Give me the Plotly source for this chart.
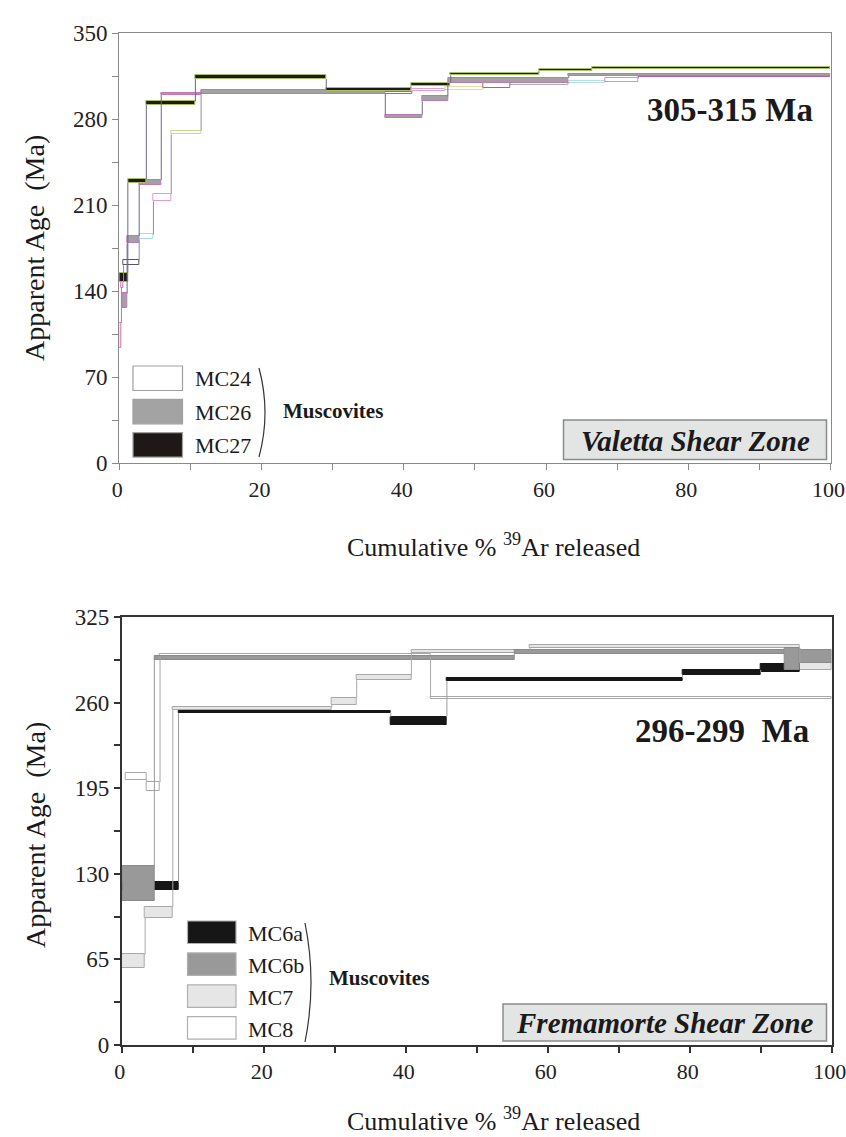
"""40Ar/39Ar age spectra for muscovites from the Valetta and Fremamorte shear zones."""

import plotly.graph_objects as go

W, H = 846, 1137
ML, MR, MT, MB = 100, 2, 20, 2
FONT = "Liberation Serif"

# ---- Valetta Shear Zone (top panel): step boundaries in cumulative %39Ar, ages and 1-sigma in Ma
MC24_STEPS = [0, 0.3, 0.6, 2.8, 4.8, 7.3, 11.5, 41.2, 45.8, 51.2, 55.0, 63.2, 68.4, 73.0, 100]
MC24_AGE = [104, 145, 163, 184, 216, 269, 301, 303.5, 305, 307, 309, 310, 311.5, 315]
MC24_ERR = [10, 2.5, 2, 2, 3, 1.5, 1, 1, 1, 2, 1, 1, 1.5, 1]

MC26_STEPS = [0.4, 1.1, 2.8, 5.9, 11.5, 37.4, 42.6, 46.2, 63.2, 100]
MC26_AGE = [132, 181.7, 228.5, 300.5, 302, 282, 296.5, 311.5, 316]
MC26_ERR = [6, 3, 2, 1, 1.5, 1.5, 2, 2, 1]

MC27_STEPS = [0, 1.2, 3.8, 10.7, 29.1, 41.0, 46.6, 59.0, 66.5, 100]
MC27_AGE = [151, 229.5, 293, 314, 304, 308, 316.5, 320, 321.7]
MC27_ERR = [4, 1.5, 1.5, 1.5, 1, 1.5, 1, 1, 0.8]

# ---- Fremamorte Shear Zone (bottom panel)
MC6A_STEPS = [0, 8.0, 37.9, 45.8, 79.0, 90.0, 95.5]
MC6A_AGE = [120.5, 253, 246, 277.5, 283, 286]
MC6A_ERR = [3, 1, 3.3, 1, 1.8, 3]

MC6B_STEPS = [0.2, 4.6, 55.3, 93.4, 95.5, 100]
MC6B_AGE = [122.6, 294, 298.5, 293, 295]
MC6B_ERR = [13, 1.5, 1.5, 8.5, 5]

MC7_STEPS = [0, 3.3, 7.2, 29.6, 33.1, 40.8, 57.5, 95.5, 100]
MC7_AGE = [63.8, 100.7, 255.6, 261, 279, 299, 302.5, 287.5]
MC7_ERR = [5, 4, 1, 2.5, 2, 1, 1, 3]

MC8_STEPS = [0.5, 3.5, 5.4, 43.5, 100]
MC8_AGE = [204, 196, 296, 263.5]
MC8_ERR = [2.5, 3.5, 1, 0.8]

TOP_LABELS = ["MC24", "MC26", "MC27"]
BOTTOM_LABELS = ["MC6a", "MC6b", "MC7", "MC8"]

# per-step outline colours used in the scanned figure for MC24
MC24_EDGES = ["#d86aa8", "#d86aa8", "#555566", "#a6dce6", "#e29ad0", "#c8dc8a", "#7a7a95",
              "#e0a0d4", "#d4e4a0", "#d05a50", "#b0b0b0", "#b8e0e4", "#d890cc", "#b060a0"]


def px(x):
    """Page pixel -> paper fraction (x)."""
    return (x - ML) / (W - ML - MR)


def py(y):
    """Page pixel -> paper fraction (y)."""
    return 1 - (y - MT) / (H - MT - MB)


def spectrum(fig, steps, ages, errs, fill, edge, link, xa, ya, lw=1.0):
    mids = [(a + b) / 2 for a, b in zip(steps[:-1], steps[1:])]
    widths = [b - a for a, b in zip(steps[:-1], steps[1:])]
    fig.add_trace(go.Bar(
        x=mids, width=widths, base=[a - e for a, e in zip(ages, errs)],
        y=[2 * e for e in errs], marker=dict(color=fill, line=dict(color=edge, width=lw)),
        xaxis=xa, yaxis=ya, showlegend=False, hoverinfo="skip",
    ))
    # vertical links between consecutive steps
    xs, ys = [], []
    for i in range(1, len(ages)):
        prev, cur = ages[i - 1], ages[i]
        if cur >= prev:
            y0, y1 = prev + errs[i - 1], cur - errs[i]
        else:
            y0, y1 = prev - errs[i - 1], cur + errs[i]
        xs += [steps[i], steps[i], None]
        ys += [y0, y1, None]
    fig.add_trace(go.Scatter(
        x=xs, y=ys, mode="lines", line=dict(color=link, width=1),
        xaxis=xa, yaxis=ya, showlegend=False, hoverinfo="skip",
    ))


fig = go.Figure()

spectrum(fig, MC24_STEPS, MC24_AGE, MC24_ERR, "white", MC24_EDGES, "#8c8ca8", "x", "y")
spectrum(fig, MC26_STEPS, MC26_AGE, MC26_ERR, "#a2a2a2", "#c078b4", "#6a6a88", "x", "y")
spectrum(fig, MC27_STEPS, MC27_AGE, MC27_ERR, "#1e1a17", "#a9bf62", "#6a6a88", "x", "y")

spectrum(fig, MC8_STEPS, MC8_AGE, MC8_ERR, "white", "#a8a8a8", "#a8a8a8", "x2", "y2")
spectrum(fig, MC7_STEPS, MC7_AGE, MC7_ERR, "#e6e6e6", "#a8a8a8", "#a8a8a8", "x2", "y2")
spectrum(fig, MC6A_STEPS, MC6A_AGE, MC6A_ERR, "#161616", "#161616", "#9a9a9a", "x2", "y2")
spectrum(fig, MC6B_STEPS, MC6B_AGE, MC6B_ERR, "#999999", "#8a8a8a", "#9a9a9a", "x2", "y2")


def axis_style(color, width, size=23):
    return dict(showline=True, mirror=True, linecolor=color, linewidth=width,
                showgrid=False, zeroline=False, ticks="outside", ticklen=6,
                tickcolor=color, tickwidth=width,
                tickfont=dict(family=FONT, size=size, color="#222"),
                automargin=False, ticklabeloverflow="allow")


fig.update_layout(
    width=W, height=H, margin=dict(l=ML, r=MR, t=MT, b=MB),
    paper_bgcolor="white", plot_bgcolor="white", barmode="overlay", bargap=0,
    xaxis=dict(domain=[px(119.3), px(830.5)], range=[0, 100], dtick=20, anchor="y",
               ticklabelshift=-2,
               minor=dict(dtick=10, ticks="outside", ticklen=6, tickcolor="#8a8a8a"),
               **axis_style("#8a8a8a", 1.2, 22)),
    yaxis=dict(domain=[py(463), py(33)], range=[0, 350], dtick=70, anchor="x",
               minor=dict(dtick=35, ticks="outside", ticklen=6, tickcolor="#8a8a8a"),
               **axis_style("#8a8a8a", 1.2)),
    xaxis2=dict(domain=[px(121.7), px(831.7)], range=[0, 100], dtick=20, anchor="y2",
                ticklabelshift=-2,
                minor=dict(dtick=10, ticks="outside", ticklen=6, tickcolor="#333"),
                **axis_style("#333", 1.5, 22)),
    yaxis2=dict(domain=[py(1045), py(617)], range=[0, 325], dtick=65, anchor="x2",
                minor=dict(dtick=32.5, ticks="outside", ticklen=6, tickcolor="#333"),
                **axis_style("#333", 1.5)),
)

shapes, notes = [], []


def text(s, x, y, size, anchor="left", angle=0):
    notes.append(dict(text=s, x=px(x), y=py(y), xref="paper", yref="paper", showarrow=False,
                      xanchor=anchor, yanchor="middle", textangle=angle,
                      font=dict(family=FONT, size=size, color="#1a1a1a")))


def box(x0, y0, x1, y1, fill, edge, width=1.2):
    shapes.append(dict(type="rect", xref="paper", yref="paper", x0=px(x0), x1=px(x1),
                       y0=py(y1), y1=py(y0), fillcolor=fill, line=dict(color=edge, width=width)))


def bracket(x, y0, y1):
    mid = (y0 + y1) / 2
    shapes.append(dict(type="path", xref="paper", yref="paper",
                       path=f"M {px(x)},{py(y0)} Q {px(x + 12)},{py(mid)} {px(x)},{py(y1)}",
                       line=dict(color="#333", width=1.2)))


# top legend
top_fills = ["white", "#a3a3a3", "#1e1916"]
for i, (lab, fill) in enumerate(zip(TOP_LABELS, top_fills)):
    y0 = 366 + i * 33.3
    box(133, y0, 182.5, y0 + 24.5, fill, "#a0a0a0")
    text(lab, 193, y0 + 13, 22)
bracket(259, 368, 457)
text("<b>Muscovites</b>", 281, 411, 21)

# bottom legend
bot_fills = ["#161616", "#999999", "#e6e6e6", "white"]
for i, (lab, fill) in enumerate(zip(BOTTOM_LABELS, bot_fills)):
    y0 = 921 + i * 31.9
    box(187.5, y0, 236, y0 + 22.5, fill, "#b0b0b0")
    text(lab, 246, y0 + 12.5, 22)
bracket(305, 923, 1042)
text("<b>Muscovites</b>", 327, 978, 21)

# age ranges
text("<b>305-315 Ma</b>", 815, 110.5, 33, anchor="right")
text("<b>296-299\u00a0\u00a0Ma</b>", 811, 731, 33, anchor="right")

# shear-zone labels
box(563.5, 420, 826.5, 459.5, "#e3e4e4", "#8a8a8a", 1.5)
text("<b><i>Valetta Shear Zone</i></b>", 695, 440.5, 29, anchor="center")
box(503, 1004, 826.5, 1041, "#e3e4e4", "#8a8a8a", 1.5)
text("<b><i>Fremamorte Shear Zone</i></b>", 665, 1023, 29, anchor="center")

# axis titles
text("Apparent Age\u00a0\u00a0(Ma)", 35, 248, 28, anchor="center", angle=-90)
text("Apparent Age\u00a0\u00a0(Ma)", 35, 835, 28, anchor="center", angle=-90)
text("Cumulative % <sup>39</sup>Ar released", 493, 545, 26, anchor="center")
text("Cumulative % <sup>39</sup>Ar released", 493, 1119, 26, anchor="center")

fig.update_layout(shapes=shapes, annotations=notes)
# drop the page's default body margin so the figure sits at the window's top-left corner
fig.write_html("out.html", config={"displayModeBar": False},
               post_script="document.body.style.margin = '0';")
